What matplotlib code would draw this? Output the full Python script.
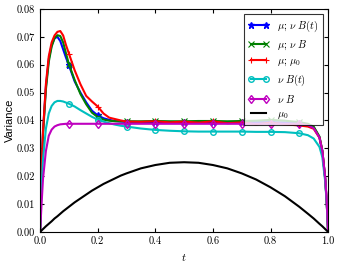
import numpy as np
import matplotlib
matplotlib.use('Agg')
import matplotlib.pyplot as plt

plt.rcParams['font.family'] = 'serif'
plt.rcParams['font.serif'] = ['cmr10']
plt.rcParams['mathtext.fontset'] = 'cm'
plt.rcParams['axes.unicode_minus'] = False
plt.rcParams['axes.formatter.use_mathtext'] = True

t = [0, 0.005, 0.01, 0.02, 0.03, 0.04, 0.05, 0.06, 0.07, 0.08, 0.09,
     0.1, 0.12, 0.14, 0.16, 0.18, 0.2, 0.22, 0.24, 0.26, 0.28,
     0.3, 0.35, 0.4, 0.45, 0.5, 0.55, 0.6, 0.65, 0.7, 0.75,
     0.8, 0.85, 0.9, 0.93, 0.95, 0.97, 0.98, 0.99, 0.995, 1.0]

mu_nu_Bt = [0, 0.022, 0.036, 0.052, 0.062, 0.067, 0.0695, 0.0700, 0.0685, 0.0655, 0.0625,
            0.0598, 0.054, 0.050, 0.0465, 0.0435, 0.0418, 0.0408, 0.0402, 0.0398, 0.0396,
            0.0395, 0.0394, 0.0394, 0.0394, 0.0394, 0.0394, 0.0394, 0.0394, 0.0394, 0.0394,
            0.0394, 0.0393, 0.0390, 0.0385, 0.0375, 0.0340, 0.0290, 0.0190, 0.0110, 0]

mu_nu_B = [0, 0.021, 0.035, 0.051, 0.061, 0.0665, 0.0695, 0.0706, 0.0703, 0.068, 0.064,
           0.0602, 0.0545, 0.0495, 0.0458, 0.0428, 0.0412, 0.0403, 0.0399, 0.0397, 0.0397,
           0.0397, 0.0397, 0.0398, 0.0397, 0.0397, 0.0398, 0.0398, 0.0397, 0.0398, 0.0399,
           0.0402, 0.0399, 0.0394, 0.0388, 0.0378, 0.0342, 0.0292, 0.0192, 0.0110, 0]

mu_mu0 = [0, 0.022, 0.036, 0.053, 0.063, 0.068, 0.0705, 0.0718, 0.0721, 0.0705, 0.067,
          0.0640, 0.0580, 0.0530, 0.0488, 0.0468, 0.0450, 0.0425, 0.0410, 0.0405, 0.0400,
          0.0396, 0.0395, 0.0397, 0.0393, 0.0396, 0.0392, 0.0397, 0.0390, 0.0393, 0.0386,
          0.0392, 0.0386, 0.0382, 0.0378, 0.0370, 0.0338, 0.0290, 0.0190, 0.0110, 0]

nu_Bt = [0, 0.016, 0.026, 0.037, 0.0425, 0.0452, 0.0465, 0.0470, 0.0470, 0.0468, 0.0464,
         0.0460, 0.0450, 0.0437, 0.0425, 0.0413, 0.0403, 0.0396, 0.0390, 0.0385, 0.0381,
         0.0378, 0.0371, 0.0366, 0.0363, 0.0361, 0.0360, 0.0360, 0.0360, 0.0360, 0.0359,
         0.0359, 0.0358, 0.0354, 0.0347, 0.0335, 0.0305, 0.0268, 0.0180, 0.0105, 0]

nu_B = [0, 0.010, 0.019, 0.029, 0.0345, 0.0367, 0.0378, 0.0383, 0.0386, 0.0387, 0.0388,
        0.0388, 0.0388, 0.0388, 0.0388, 0.0388, 0.0388, 0.0388, 0.0388, 0.0388, 0.0388,
        0.0388, 0.0388, 0.0388, 0.0388, 0.0388, 0.0388, 0.0388, 0.0388, 0.0388, 0.0388,
        0.0388, 0.0388, 0.0388, 0.0383, 0.0372, 0.0338, 0.0290, 0.0195, 0.0115, 0]

mu0 = [0, 0.0005, 0.001, 0.002, 0.0029, 0.0038, 0.0048, 0.0056, 0.0065, 0.0074, 0.0082,
       0.009, 0.0106, 0.012, 0.0134, 0.0148, 0.016, 0.0172, 0.0182, 0.0192, 0.0202,
       0.021, 0.0228, 0.024, 0.0248, 0.025, 0.0248, 0.024, 0.0228, 0.021, 0.0188,
       0.016, 0.0128, 0.009, 0.0065, 0.0048, 0.0029, 0.002, 0.001, 0.0005, 0]

marker_t = [0.1, 0.2, 0.3, 0.4, 0.5, 0.6, 0.7, 0.8, 0.9]
marks = [t.index(v) for v in marker_t]

fig = plt.figure(figsize=(3.4, 2.65), dpi=100)
ax = fig.add_axes([0.118, 0.125, 0.847, 0.841])

ax.plot(t, mu_nu_Bt, color='b', lw=1.5, marker='*', ms=4.5, mec='b', markevery=marks,
        label=r'$\mu;\,\nu\ B(t)$')
ax.plot(t, mu_nu_B, color='g', lw=1.5, marker='x', ms=4.5, mew=0.8, markevery=marks,
        label=r'$\mu;\,\nu\ B$')
ax.plot(t, mu_mu0, color='r', lw=1.5, marker='+', ms=4.5, mew=0.8, markevery=marks,
        label=r'$\mu;\,\mu_0$')
ax.plot(t, nu_Bt, color='c', lw=1.5, marker='o', ms=4, mfc='none', mec='c', markevery=marks,
        label=r'$\nu\ B(t)$')
ax.plot(t, nu_B, color='m', lw=1.5, marker='d', ms=4.5, mfc='none', mec='m', markevery=marks,
        label=r'$\nu\ B$')
ax.plot(t, mu0, color='k', lw=1.5, label=r'$\mu_0$')

ax.set_xlim(0, 1)
ax.set_ylim(0, 0.08)
ax.set_xticks([0, 0.2, 0.4, 0.6, 0.8, 1.0])
ax.set_yticks([0, 0.01, 0.02, 0.03, 0.04, 0.05, 0.06, 0.07, 0.08])
ax.xaxis.set_major_formatter(matplotlib.ticker.FormatStrFormatter('%.1f'))
ax.yaxis.set_major_formatter(matplotlib.ticker.FormatStrFormatter('%.2f'))
ax.tick_params(direction='in', top=True, right=True, labelsize=7.5, length=3)
ax.set_xlabel(r'$t$', fontsize=8)
ax.set_ylabel('Variance', fontsize=8, family='Liberation Sans')
ax.yaxis.set_label_coords(-0.087, 0.5)

leg = ax.legend(loc='upper right', fontsize=7.5, numpoints=2, fancybox=False,
                borderaxespad=0.5, handlelength=2, labelspacing=0.45)
leg.get_frame().set_edgecolor('k')
leg.get_frame().set_linewidth(0.8)

fig.savefig('out.png', dpi=100)
